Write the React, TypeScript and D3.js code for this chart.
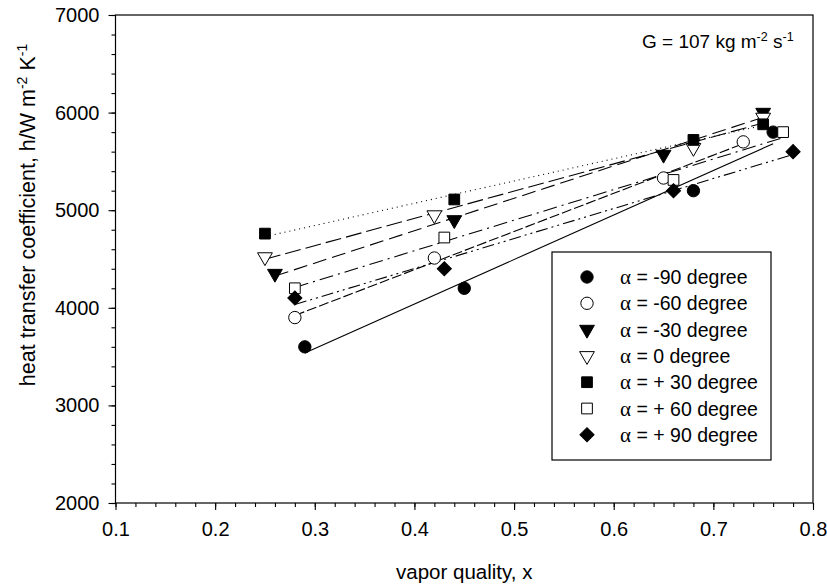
import React, { useEffect, useRef } from "react";
import * as d3 from "d3";

// angle labels for legend
const angles = ["-90", "-60", "-30", "0", "+ 30", "+ 60", "+ 90"];

// vapor quality per series
const xM90 = [0.29, 0.45, 0.68, 0.76];
const xM60 = [0.28, 0.42, 0.65, 0.73];
const xM30 = [0.26, 0.44, 0.65, 0.75];
const x0 = [0.25, 0.42, 0.68, 0.75];
const xP30 = [0.25, 0.44, 0.68, 0.75];
const xP60 = [0.28, 0.43, 0.66, 0.77];
const xP90 = [0.28, 0.43, 0.66, 0.78];

// heat transfer coefficient per series
const hM90 = [3600, 4200, 5200, 5800];
const hM60 = [3900, 4510, 5330, 5700];
const hM30 = [4350, 4900, 5570, 6000];
const h0 = [4520, 4950, 5640, 5950];
const hP30 = [4760, 5110, 5720, 5880];
const hP60 = [4200, 4720, 5310, 5800];
const hP90 = [4100, 4400, 5200, 5600];

const xTicks = [0.1, 0.2, 0.3, 0.4, 0.5, 0.6, 0.7, 0.8];
const yTicks = [2000, 3000, 4000, 5000, 6000, 7000];

const App = () => {
  const svgRef = useRef<SVGSVGElement>(null);

  useEffect(() => {
    document.body.style.margin = "0";
    const svg = d3.select(svgRef.current);
    svg.selectAll("*").remove();

    const width = 827;
    const height = 587;
    const margin = { top: 15, right: 14, bottom: 84, left: 115.5 };
    const font = "'Liberation Sans', Arial, sans-serif";

    const x = d3.scaleLinear().domain([0.1, 0.8]).range([margin.left, width - margin.right]);
    const y = d3.scaleLinear().domain([2000, 7000]).range([height - margin.bottom, margin.top]);

    svg.attr("width", width).attr("height", height).style("font-family", font);

    const xs = [xM90, xM60, xM30, x0, xP30, xP60, xP90];
    const hs = [hM90, hM60, hM30, h0, hP30, hP60, hP90];

    // marker + line style per series
    const styles = [
      { shape: "circle", fill: "black", dash: null },
      { shape: "circle", fill: "white", dash: "10,3" },
      { shape: "tri", fill: "black", dash: "14,6" },
      { shape: "tri", fill: "white", dash: "16,5" },
      { shape: "square", fill: "black", dash: "1,4" },
      { shape: "square", fill: "white", dash: "14,5,2,5" },
      { shape: "diamond", fill: "black", dash: "12,4,2,4,2,4" },
    ];

    const symbolPath = (shape) => {
      if (shape === "circle") return d3.symbol(d3.symbolCircle, 120)();
      if (shape === "square") return d3.symbol(d3.symbolSquare, 115)();
      if (shape === "diamond") return d3.symbol(d3.symbolSquare, 100)();
      return d3.symbol(d3.symbolTriangle, 95)();
    };
    const symbolRotate = (shape) =>
      shape === "tri" ? " rotate(180)" : shape === "diamond" ? " rotate(45)" : "";

    // fitted lines
    xs.forEach((xv, i) => {
      const mx = d3.mean(xv);
      const my = d3.mean(hs[i]);
      const sxy = d3.sum(xv, (v, k) => (v - mx) * (hs[i][k] - my));
      const sxx = d3.sum(xv, (v) => (v - mx) * (v - mx));
      const b = sxy / sxx;
      const a = my - b * mx;
      const x1 = d3.min(xv);
      const x2 = d3.max(xv);
      svg.append("line")
        .attr("x1", x(x1)).attr("y1", y(a + b * x1))
        .attr("x2", x(x2)).attr("y2", y(a + b * x2))
        .attr("stroke", "black")
        .attr("stroke-width", 1.1)
        .attr("stroke-dasharray", styles[i].dash);
    });

    // markers
    xs.forEach((xv, i) => {
      const st = styles[i];
      svg.append("g").selectAll("path")
        .data(xv.map((v, k) => [v, hs[i][k]]))
        .enter()
        .append("path")
        .attr("d", symbolPath(st.shape))
        .attr("transform", d => `translate(${x(d[0])},${y(d[1])})${symbolRotate(st.shape)}`)
        .attr("fill", st.fill)
        .attr("stroke", "black")
        .attr("stroke-width", 1);
    });

    // frame
    svg.append("rect")
      .attr("x", margin.left).attr("y", margin.top)
      .attr("width", width - margin.right - margin.left)
      .attr("height", height - margin.bottom - margin.top)
      .attr("fill", "none").attr("stroke", "black").attr("stroke-width", 1.2);

    // axes
    const xAxis = svg.append("g").attr("transform", `translate(0,${height - margin.bottom})`);
    xAxis.call(d3.axisBottom(x).tickValues(d3.range(0.1, 0.8001, 0.02)).tickSize(4).tickFormat(() => ""));
    xAxis.call(g => g.select(".domain").remove());
    const xMajor = svg.append("g").attr("transform", `translate(0,${height - margin.bottom})`);
    xMajor.call(d3.axisBottom(x).tickValues(xTicks).tickSize(7).tickPadding(12).tickFormat(d3.format(".1f")));
    xMajor.call(g => g.select(".domain").remove());
    xMajor.selectAll("text").style("font-size", "20px").style("font-family", font).attr("fill", "black");

    const yAxis = svg.append("g").attr("transform", `translate(${margin.left},0)`);
    yAxis.call(d3.axisLeft(y).tickValues(d3.range(2000, 7001, 200)).tickSize(4).tickFormat(() => ""));
    yAxis.call(g => g.select(".domain").remove());
    const yMajor = svg.append("g").attr("transform", `translate(${margin.left},0)`);
    yMajor.call(d3.axisLeft(y).tickValues(yTicks).tickSize(7).tickPadding(9).tickFormat(d3.format("d")));
    yMajor.call(g => g.select(".domain").remove());
    yMajor.selectAll("text").style("font-size", "20px").style("font-family", font).attr("fill", "black");
    svg.selectAll(".tick line").attr("stroke", "black").attr("stroke-width", 1.1);

    // axis titles
    svg.append("text")
      .attr("x", (margin.left + width - margin.right) / 2)
      .attr("y", 579)
      .attr("text-anchor", "middle")
      .style("font-size", "20.5px")
      .text("vapor quality, x");

    const yt = svg.append("text")
      .attr("transform", "translate(35,215) rotate(-90)")
      .attr("text-anchor", "middle")
      .style("font-size", "21.5px");
    yt.append("tspan").text("heat transfer coefficient, h/W m");
    yt.append("tspan").attr("dy", -8).style("font-size", "14px").text("-2");
    yt.append("tspan").attr("dy", 8).text(" K");
    yt.append("tspan").attr("dy", -8).style("font-size", "14px").text("-1");

    // G annotation
    const g = svg.append("text").attr("x", 642).attr("y", 48).style("font-size", "19px");
    g.append("tspan").text("G = 107 kg m");
    g.append("tspan").attr("dy", -7).style("font-size", "12.5px").text("-2");
    g.append("tspan").attr("dy", 7).text(" s");
    g.append("tspan").attr("dy", -7).style("font-size", "12.5px").text("-1");

    // legend
    const leg = svg.append("g");
    leg.append("rect")
      .attr("x", 552).attr("y", 252).attr("width", 219).attr("height", 208)
      .attr("fill", "white").attr("stroke", "black").attr("stroke-width", 1.2);
    angles.forEach((a, i) => {
      const ry = 277 + i * 26.3;
      const st = styles[i];
      leg.append("path")
        .attr("d", symbolPath(st.shape))
        .attr("transform", `translate(587,${ry})${symbolRotate(st.shape)}`)
        .attr("fill", st.fill).attr("stroke", "black");
      const t = leg.append("text").attr("x", 620).attr("y", ry + 7).style("font-size", "19.5px");
      t.append("tspan").style("font-family", "'Liberation Serif', serif").style("font-size", "21px").text("α");
      t.append("tspan").text(` = ${a} degree`);
    });
  }, []);

  return <svg ref={svgRef} />;
};

export default App;
